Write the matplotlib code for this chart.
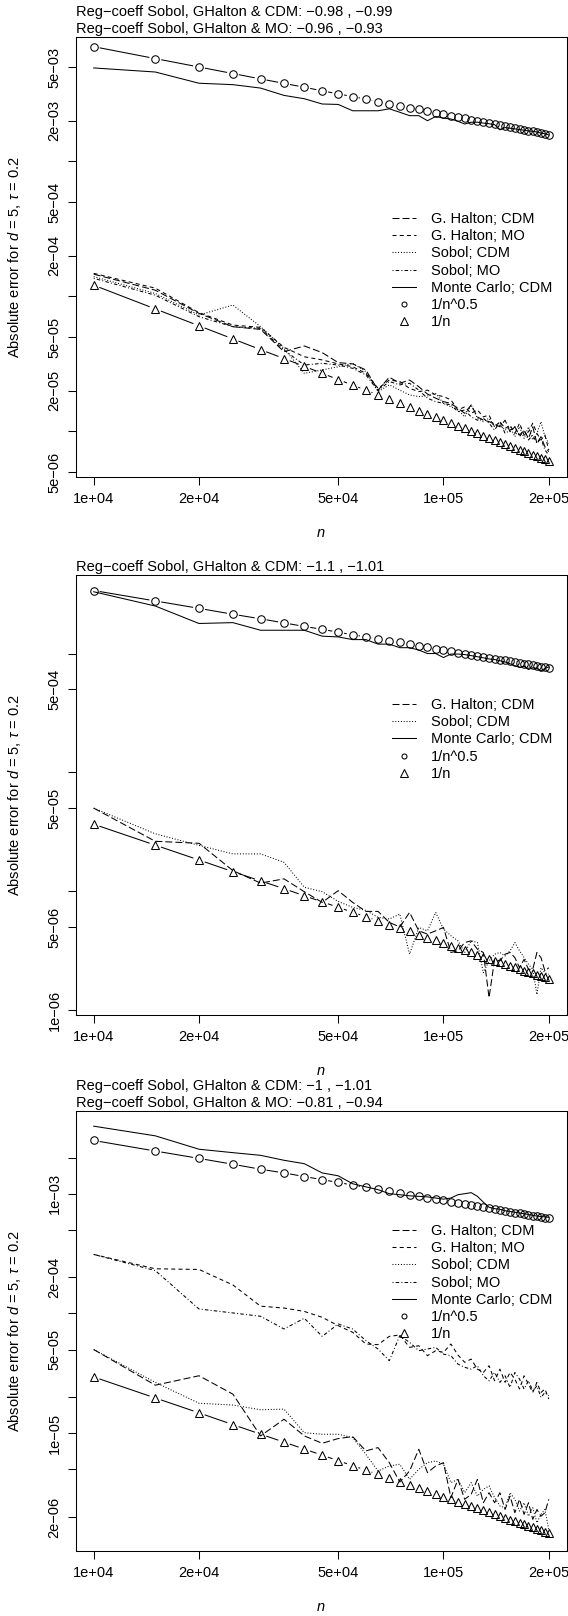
import numpy as np
import matplotlib
matplotlib.use("Agg")
import matplotlib.pyplot as plt
from matplotlib.lines import Line2D
from matplotlib.collections import LineCollection
from matplotlib.ticker import FixedLocator, NullLocator, FixedFormatter

plt.rcParams['font.family'] = ['Liberation Sans', 'DejaVu Sans']
plt.rcParams['mathtext.fontset'] = 'custom'
plt.rcParams['mathtext.rm'] = 'Liberation Sans'
plt.rcParams['mathtext.it'] = 'Liberation Sans:italic'
plt.rcParams['lines.scale_dashes'] = False
FS = 10.5
plt.rcParams['font.size'] = FS

# ---------------- data ----------------
n_values = [10000, 15000, 20000, 25000, 30000, 35000, 40000, 45000, 50000, 55000,
            60000, 65000, 70000, 75000, 80000, 85000, 90000, 95000, 100000, 105000,
            110000, 115000, 120000, 125000, 130000, 135000, 140000, 145000, 150000, 155000,
            160000, 165000, 170000, 175000, 180000, 185000, 190000, 195000, 200000]

x_ticks = [1e4, 2e4, 5e4, 1e5, 2e5]
x_tick_labels = ['1e+04', '2e+04', '5e+04', '1e+05', '2e+05']

# Panel 1
p1_gh_cdm = [1.46e-4, 1.11e-4, 7.48e-5, 5.96e-5, 5.69e-5, 3.89e-5, 4.29e-5, 3.83e-5, 3.23e-5, 3.16e-5,
             2.85e-5, 2.02e-5, 2.52e-5, 2.27e-5, 2.40e-5, 2.14e-5, 1.89e-5, 1.76e-5, 1.66e-5, 1.61e-5,
             1.48e-5, 1.36e-5, 1.57e-5, 1.28e-5, 1.21e-5, 1.18e-5, 1.13e-5, 1.08e-5, 1.21e-5, 9.93e-6,
             1.08e-5, 9.39e-6, 1.02e-5, 8.87e-6, 1.08e-5, 8.15e-6, 9.13e-6, 7.70e-6, 7.07e-6]
p1_gh_mo = [1.48e-4, 1.15e-4, 7.57e-5, 6.13e-5, 5.89e-5, 4.19e-5, 3.57e-5, 3.38e-5, 3.16e-5, 3.01e-5,
            2.69e-5, 2.08e-5, 2.40e-5, 2.34e-5, 2.08e-5, 1.97e-5, 2.02e-5, 1.86e-5, 1.81e-5, 1.71e-5,
            1.44e-5, 1.52e-5, 1.36e-5, 1.44e-5, 1.28e-5, 1.32e-5, 1.08e-5, 1.18e-5, 1.05e-5, 1.11e-5,
            9.66e-6, 1.15e-5, 9.39e-6, 9.93e-6, 1.15e-5, 9.66e-6, 8.63e-6, 9.39e-6, 7.27e-6]
p1_sob_cdm = [1.40e-4, 1.05e-4, 7.27e-5, 8.62e-5, 5.96e-5, 4.12e-5, 2.69e-5, 2.85e-5, 3.01e-5, 3.19e-5,
              2.77e-5, 1.97e-5, 2.21e-5, 2.02e-5, 1.86e-5, 1.81e-5, 1.83e-5, 1.91e-5, 1.61e-5, 1.52e-5,
              1.44e-5, 1.28e-5, 1.57e-5, 1.25e-5, 1.18e-5, 1.25e-5, 1.08e-5, 1.11e-5, 1.02e-5, 1.08e-5,
              9.13e-6, 1.08e-5, 8.87e-6, 1.08e-5, 8.63e-6, 9.66e-6, 1.18e-5, 9.13e-6, 8.15e-6]
p1_sob_mo = [1.36e-4, 1.02e-4, 7.07e-5, 5.96e-5, 5.79e-5, 4.00e-5, 3.10e-5, 3.19e-5, 3.10e-5, 2.93e-5,
             2.62e-5, 2.00e-5, 2.34e-5, 2.21e-5, 2.27e-5, 2.02e-5, 1.76e-5, 1.66e-5, 1.61e-5, 1.57e-5,
             1.40e-5, 1.44e-5, 1.28e-5, 1.21e-5, 1.25e-5, 1.15e-5, 1.02e-5, 1.18e-5, 9.66e-6, 1.02e-5,
             1.08e-5, 9.13e-6, 1.02e-5, 8.63e-6, 9.39e-6, 8.15e-6, 8.87e-6, 7.27e-6, 6.68e-6]
p1_mc = [4.92e-3, 4.59e-3, 3.79e-3, 3.70e-3, 3.49e-3, 3.08e-3, 2.91e-3, 2.66e-3, 2.64e-3, 2.37e-3,
         2.37e-3, 2.37e-3, 2.45e-3, 2.31e-3, 2.18e-3, 2.18e-3, 2.00e-3, 2.15e-3, 2.09e-3, 2.06e-3,
         1.98e-3, 1.89e-3, 1.95e-3, 1.95e-3, 1.92e-3, 1.90e-3, 1.87e-3, 1.71e-3, 1.78e-3, 1.76e-3,
         1.74e-3, 1.72e-3, 1.70e-3, 1.68e-3, 1.67e-3, 1.65e-3, 1.62e-3, 1.60e-3, 1.57e-3]
p1_sqrt_ref = [7.07e-3, 5.77e-3, 5.00e-3, 4.47e-3, 4.08e-3, 3.78e-3, 3.54e-3, 3.33e-3, 3.16e-3, 3.02e-3,
               2.89e-3, 2.77e-3, 2.67e-3, 2.58e-3, 2.50e-3, 2.43e-3, 2.36e-3, 2.29e-3, 2.24e-3, 2.18e-3,
               2.13e-3, 2.09e-3, 2.04e-3, 2.00e-3, 1.96e-3, 1.92e-3, 1.89e-3, 1.86e-3, 1.83e-3, 1.80e-3,
               1.77e-3, 1.74e-3, 1.72e-3, 1.69e-3, 1.67e-3, 1.64e-3, 1.62e-3, 1.60e-3, 1.58e-3]
p1_inv_ref = [1.21e-4, 8.07e-5, 6.05e-5, 4.84e-5, 4.03e-5, 3.46e-5, 3.03e-5, 2.69e-5, 2.42e-5, 2.20e-5,
              2.02e-5, 1.86e-5, 1.73e-5, 1.61e-5, 1.51e-5, 1.42e-5, 1.34e-5, 1.27e-5, 1.21e-5, 1.15e-5,
              1.10e-5, 1.05e-5, 1.01e-5, 9.68e-6, 9.31e-6, 8.96e-6, 8.64e-6, 8.34e-6, 8.07e-6, 7.81e-6,
              7.56e-6, 7.33e-6, 7.12e-6, 6.91e-6, 6.72e-6, 6.54e-6, 6.37e-6, 6.21e-6, 6.05e-6]
p1_yticks = [5e-6, 1e-5, 2e-5, 5e-5, 1e-4, 2e-4, 5e-4, 1e-3, 2e-3, 5e-3]
p1_ytick_labels = ['5e\u221206', '', '2e\u221205', '5e\u221205', '', '2e\u221204', '5e\u221204', '',
                   '2e\u221203', '5e\u221203']
p1_titles = ['Reg\u2212coeff Sobol, GHalton & CDM: \u22120.98 , \u22120.99',
             'Reg\u2212coeff Sobol, GHalton & MO: \u22120.96 , \u22120.93']

# Panel 2
p2_gh_cdm = [5.0e-5, 2.63e-5, 2.53e-5, 1.49e-5, 1.17e-5, 1.27e-5, 9.9e-6, 8.05e-6, 1.01e-5, 8.05e-6,
             6.76e-6, 6.76e-6, 5.46e-6, 5.0e-6, 6.63e-6, 4.64e-6, 4.35e-6, 4.64e-6, 4.95e-6, 3.05e-6,
             3.15e-6, 3.70e-6, 3.82e-6, 3.25e-6, 3.05e-6, 1.27e-6, 2.67e-6, 2.59e-6, 2.95e-6, 3.05e-6,
             2.76e-6, 2.27e-6, 2.67e-6, 2.20e-6, 2.20e-6, 3.05e-6, 2.76e-6, 2.13e-6, 2.27e-6]
p2_sob_cdm = [5.0e-5, 3.04e-5, 2.43e-5, 2.06e-5, 2.06e-5, 1.75e-5, 1.08e-5, 9.9e-6, 8.2e-6, 7.31e-6,
              6.9e-6, 6.02e-6, 5.83e-6, 6.42e-6, 2.95e-6, 4.95e-6, 4.64e-6, 6.63e-6, 4.80e-6, 4.22e-6,
              3.82e-6, 3.05e-6, 3.82e-6, 3.70e-6, 2.06e-6, 2.59e-6, 2.95e-6, 3.05e-6, 2.85e-6, 3.15e-6,
              3.70e-6, 3.15e-6, 2.76e-6, 2.43e-6, 2.20e-6, 1.35e-6, 2.27e-6, 2.06e-6, 2.00e-6]
p2_mc = [3.31e-3, 2.51e-3, 1.79e-3, 1.82e-3, 1.57e-3, 1.57e-3, 1.57e-3, 1.40e-3, 1.38e-3, 1.31e-3,
         1.31e-3, 1.20e-3, 1.20e-3, 1.12e-3, 1.12e-3, 1.07e-3, 1.00e-3, 1.00e-3, 9.25e-4, 9.9e-4,
         9.9e-4, 9.8e-4, 9.6e-4, 9.4e-4, 9.2e-4, 9.0e-4, 8.9e-4, 8.7e-4, 8.5e-4, 8.2e-4,
         7.9e-4, 7.62e-4, 7.8e-4, 7.33e-4, 7.6e-4, 7.5e-4, 7.14e-4, 7.5e-4, 7.71e-4]
p2_sqrt_ref = [3.39e-3, 2.77e-3, 2.40e-3, 2.14e-3, 1.96e-3, 1.81e-3, 1.69e-3, 1.60e-3, 1.51e-3, 1.44e-3,
               1.38e-3, 1.33e-3, 1.28e-3, 1.24e-3, 1.20e-3, 1.16e-3, 1.13e-3, 1.10e-3, 1.07e-3, 1.05e-3,
               1.02e-3, 9.99e-4, 9.78e-4, 9.58e-4, 9.39e-4, 9.22e-4, 9.05e-4, 8.89e-4, 8.75e-4, 8.60e-4,
               8.47e-4, 8.34e-4, 8.21e-4, 8.10e-4, 7.98e-4, 7.87e-4, 7.77e-4, 7.67e-4, 7.57e-4]
p2_inv_ref = [3.66e-5, 2.44e-5, 1.83e-5, 1.46e-5, 1.22e-5, 1.05e-5, 9.15e-6, 8.13e-6, 7.32e-6, 6.65e-6,
              6.10e-6, 5.63e-6, 5.23e-6, 4.88e-6, 4.58e-6, 4.31e-6, 4.07e-6, 3.85e-6, 3.66e-6, 3.49e-6,
              3.33e-6, 3.18e-6, 3.05e-6, 2.93e-6, 2.82e-6, 2.71e-6, 2.61e-6, 2.52e-6, 2.44e-6, 2.36e-6,
              2.29e-6, 2.22e-6, 2.15e-6, 2.09e-6, 2.03e-6, 1.98e-6, 1.93e-6, 1.88e-6, 1.83e-6]
p2_yticks = [1e-6, 5e-6, 1e-5, 5e-5, 1e-4, 5e-4, 1e-3]
p2_ytick_labels = ['1e\u221206', '5e\u221206', '', '5e\u221205', '', '5e\u221204', '']
p2_titles = ['Reg\u2212coeff Sobol, GHalton & CDM: \u22121.1 , \u22121.01']

# Panel 3
p3_gh_cdm = [5.0e-5, 2.52e-5, 3.02e-5, 2.12e-5, 9.50e-6, 1.31e-5, 9.50e-6, 8.25e-6, 9.03e-6, 9.38e-6,
             7.12e-6, 7.59e-6, 5.68e-6, 3.92e-6, 4.84e-6, 7.35e-6, 4.69e-6, 5.33e-6, 5.68e-6, 2.90e-6,
             4.12e-6, 2.81e-6, 3.09e-6, 4.12e-6, 2.63e-6, 3.19e-6, 2.63e-6, 3.19e-6, 2.31e-6, 2.99e-6,
             2.17e-6, 2.81e-6, 2.10e-6, 2.63e-6, 1.91e-6, 2.31e-6, 2.03e-6, 2.17e-6, 2.81e-6]
p3_gh_mo = [3.11e-4, 2.36e-4, 2.33e-4, 1.73e-4, 1.15e-4, 1.11e-4, 1.04e-4, 9.29e-5, 7.91e-5, 6.96e-5,
            5.56e-5, 5.49e-5, 6.44e-5, 6.61e-5, 5.21e-5, 5.38e-5, 4.44e-5, 4.89e-5, 4.73e-5, 5.56e-5,
            4.50e-5, 3.91e-5, 4.16e-5, 3.43e-5, 3.22e-5, 3.66e-5, 2.74e-5, 3.43e-5, 2.66e-5, 3.22e-5,
            2.83e-5, 2.34e-5, 3.02e-5, 2.57e-5, 2.19e-5, 2.66e-5, 2.19e-5, 2.34e-5, 1.93e-5]
p3_sob_cdm = [5.0e-5, 2.66e-5, 1.78e-5, 1.72e-5, 1.57e-5, 1.59e-5, 1.01e-5, 9.81e-6, 9.81e-6, 9.20e-6,
              6.67e-6, 4.84e-6, 5.33e-6, 5.51e-6, 4.12e-6, 5.00e-6, 5.68e-6, 5.87e-6, 5.51e-6, 3.87e-6,
              4.12e-6, 3.19e-6, 3.87e-6, 2.99e-6, 3.40e-6, 3.63e-6, 2.90e-6, 2.47e-6, 2.39e-6, 3.19e-6,
              2.81e-6, 2.24e-6, 2.63e-6, 2.03e-6, 2.39e-6, 1.79e-6, 2.10e-6, 2.31e-6, 1.57e-6]
p3_sob_mo = [3.11e-4, 2.28e-4, 1.09e-4, 1.01e-4, 9.47e-5, 7.42e-5, 9.12e-5, 6.44e-5, 8.17e-5, 7.42e-5,
             5.93e-5, 5.05e-5, 4.03e-5, 6.53e-5, 5.74e-5, 4.89e-5, 5.05e-5, 5.21e-5, 4.58e-5, 4.44e-5,
             3.78e-5, 3.55e-5, 3.43e-5, 3.66e-5, 3.02e-5, 2.74e-5, 3.22e-5, 2.66e-5, 3.02e-5, 2.41e-5,
             3.22e-5, 2.83e-5, 2.34e-5, 2.74e-5, 2.26e-5, 2.49e-5, 1.99e-5, 2.19e-5, 2.05e-5]
p3_mc = [3.66e-3, 3.04e-3, 2.35e-3, 2.20e-3, 2.09e-3, 1.90e-3, 1.78e-3, 1.49e-3, 1.41e-3, 1.21e-3,
         1.14e-3, 1.08e-3, 1.00e-3, 9.8e-4, 9.6e-4, 9.5e-4, 9.4e-4, 9.2e-4, 9.0e-4, 9.2e-4,
         9.8e-4, 1.0e-3, 1.02e-3, 9.5e-4, 8.5e-4, 7.7e-4, 7.5e-4, 7.4e-4, 7.2e-4, 7.1e-4,
         7.0e-4, 6.9e-4, 6.8e-4, 6.7e-4, 6.6e-4, 6.5e-4, 6.45e-4, 6.4e-4, 6.35e-4]
p3_sqrt_ref = [2.78e-3, 2.27e-3, 1.97e-3, 1.76e-3, 1.60e-3, 1.49e-3, 1.39e-3, 1.31e-3, 1.24e-3, 1.18e-3,
               1.13e-3, 1.09e-3, 1.05e-3, 1.01e-3, 9.83e-4, 9.53e-4, 9.26e-4, 9.02e-4, 8.79e-4, 8.58e-4,
               8.38e-4, 8.19e-4, 8.02e-4, 7.86e-4, 7.71e-4, 7.56e-4, 7.43e-4, 7.30e-4, 7.17e-4, 7.06e-4,
               6.95e-4, 6.84e-4, 6.74e-4, 6.64e-4, 6.55e-4, 6.46e-4, 6.38e-4, 6.29e-4, 6.21e-4]
p3_inv_ref = [2.95e-5, 1.97e-5, 1.48e-5, 1.18e-5, 9.83e-6, 8.43e-6, 7.38e-6, 6.56e-6, 5.90e-6, 5.36e-6,
              4.92e-6, 4.54e-6, 4.21e-6, 3.93e-6, 3.69e-6, 3.47e-6, 3.28e-6, 3.11e-6, 2.95e-6, 2.81e-6,
              2.68e-6, 2.57e-6, 2.46e-6, 2.36e-6, 2.27e-6, 2.19e-6, 2.11e-6, 2.03e-6, 1.97e-6, 1.90e-6,
              1.84e-6, 1.79e-6, 1.74e-6, 1.69e-6, 1.64e-6, 1.59e-6, 1.55e-6, 1.51e-6, 1.48e-6]
p3_yticks = [2e-6, 5e-6, 1e-5, 2e-5, 5e-5, 1e-4, 2e-4, 5e-4, 1e-3, 2e-3]
p3_ytick_labels = ['2e\u221206', '', '1e\u221205', '', '5e\u221205', '', '2e\u221204', '', '1e\u221203', '']
p3_titles = ['Reg\u2212coeff Sobol, GHalton & CDM: \u22121 , \u22121.01',
             'Reg\u2212coeff Sobol, GHalton & MO: \u22120.81 , \u22120.94']

legend_labels = {
    'gh_cdm': 'G. Halton; CDM', 'gh_mo': 'G. Halton; MO', 'sob_cdm': 'Sobol; CDM',
    'sob_mo': 'Sobol; MO', 'mc': 'Monte Carlo; CDM', 'sqrt': '1/n^0.5', 'inv': '1/n',
}

# ---------------- styles ----------------
W, H = 568.0, 1616.0
DPI = 100
PX = 72.0 / DPI      # points per pixel
LW = 0.75
STYLES = {
    'gh_cdm': (0, (7 * PX, 3 * PX)),
    'gh_mo': (0, (4 * PX, 3.2 * PX)),
    'sob_cdm': (0, (1 * PX, 1.8 * PX)),
    'sob_mo': (0, (1 * PX, 2.2 * PX, 3.5 * PX, 2.2 * PX)),
    'mc': '-',
}

fig = plt.figure(figsize=(W / DPI, H / DPI), dpi=DPI)


def add_axes_px(top, bottom, left=75.5, right=567.0):
    return fig.add_axes([left / W, 1 - bottom / H, (right - left) / W, (bottom - top) / H])


def type_b(ax, x, y, marker, ms, gap_px=6.0):
    ax.plot(x, y, linestyle='none', marker=marker, ms=ms, mfc='none', mec='black', mew=LW,
            zorder=3)
    pts = ax.transData.transform(np.column_stack([x, y]))
    inv = ax.transData.inverted()
    segs = []
    for p0, p1 in zip(pts[:-1], pts[1:]):
        d = np.hypot(*(p1 - p0))
        if d > 2 * gap_px:
            u = (p1 - p0) / d
            segs.append(inv.transform(np.array([p0 + u * gap_px, p1 - u * gap_px])))
    ax.add_collection(LineCollection(segs, colors='black', linewidths=LW, zorder=3))


panels = [
    dict(top=37, bottom=477, ylim=(4.59e-6, 8.34e-3), yticks=p1_yticks, ylabels=p1_ytick_labels,
         titles=p1_titles, series=[('gh_cdm', p1_gh_cdm), ('gh_mo', p1_gh_mo), ('sob_cdm', p1_sob_cdm),
                                   ('sob_mo', p1_sob_mo), ('mc', p1_mc)],
         sqrt=p1_sqrt_ref, inv=p1_inv_ref, leg_top=212),
    dict(top=575, bottom=1015, ylim=(9.08e-7, 4.58e-3), yticks=p2_yticks, ylabels=p2_ytick_labels,
         titles=p2_titles, series=[('gh_cdm', p2_gh_cdm), ('sob_cdm', p2_sob_cdm), ('mc', p2_mc)],
         sqrt=p2_sqrt_ref, inv=p2_inv_ref, leg_top=698),
    dict(top=1111, bottom=1551, ylim=(1.04e-6, 4.90e-3), yticks=p3_yticks, ylabels=p3_ytick_labels,
         titles=p3_titles, series=[('gh_cdm', p3_gh_cdm), ('gh_mo', p3_gh_mo), ('sob_cdm', p3_sob_cdm),
                                   ('sob_mo', p3_sob_mo), ('mc', p3_mc)],
         sqrt=p3_sqrt_ref, inv=p3_inv_ref, leg_top=1224),
]

for P in panels:
    ax = add_axes_px(P['top'], P['bottom'])
    ax.set_xscale('log')
    ax.set_yscale('log')
    ax.set_xlim(8870, 2.255e5)
    ax.set_ylim(*P['ylim'])
    for sp in ax.spines.values():
        sp.set_linewidth(LW)

    handles, labels = [], []
    for key, vals in P['series']:
        ax.plot(n_values, vals, color='black', lw=LW, linestyle=STYLES[key], zorder=2)
        handles.append(Line2D([], [], color='black', lw=LW, linestyle=STYLES[key]))
        labels.append(legend_labels[key])
    type_b(ax, n_values, P['sqrt'], 'o', 5.4)
    type_b(ax, n_values, P['inv'], '^', 5.4)
    handles.append(Line2D([], [], ls='none', marker='o', ms=3.6, mfc='none', mec='black', mew=LW))
    labels.append(legend_labels['sqrt'])
    handles.append(Line2D([], [], ls='none', marker='^', ms=5.2, mfc='none', mec='black', mew=LW))
    labels.append(legend_labels['inv'])

    ax.xaxis.set_major_locator(FixedLocator(x_ticks))
    ax.xaxis.set_major_formatter(FixedFormatter(x_tick_labels))
    ax.xaxis.set_minor_locator(NullLocator())
    ax.yaxis.set_major_locator(FixedLocator(P['yticks']))
    ax.yaxis.set_major_formatter(FixedFormatter(P['ylabels']))
    ax.yaxis.set_minor_locator(NullLocator())
    ax.tick_params(axis='both', which='major', direction='out', length=6, width=LW,
                   labelsize=FS, color='black')
    ax.tick_params(axis='x', pad=5)
    ax.tick_params(axis='y', pad=4, labelrotation=90)
    for lab in ax.get_yticklabels():
        lab.set_va('center')

    leg_x = (392 - 75.5) / (567 - 75.5)
    leg_y = 1 - (P['leg_top'] - P['top']) / (P['bottom'] - P['top'])
    ax.legend(handles, labels, loc='upper left', bbox_to_anchor=(leg_x, leg_y), frameon=False,
              borderaxespad=0, borderpad=0, handlelength=1.65, handletextpad=1.0,
              labelspacing=0.22, fontsize=FS)

    # titles
    nt = len(P['titles'])
    for i, t in enumerate(P['titles']):
        yc = P['top'] - 8.5 - 16.8 * (nt - 1 - i)
        fig.text(75.5 / W, 1 - yc / H, t, ha='left', va='center', fontsize=FS)
    # x label
    fig.text((75.5 + 567) / 2 / W, 1 - (P['bottom'] + 56) / H, 'n', ha='center', va='center',
             fontsize=FS, fontstyle='italic')
    # y label
    fig.text(15 / W, 1 - (P['top'] + P['bottom']) / 2 / H,
             r'Absolute error for $d$ = 5, $\tau$ = 0.2', rotation=90, ha='center', va='center',
             fontsize=FS)

fig.savefig('out.png', dpi=DPI)
